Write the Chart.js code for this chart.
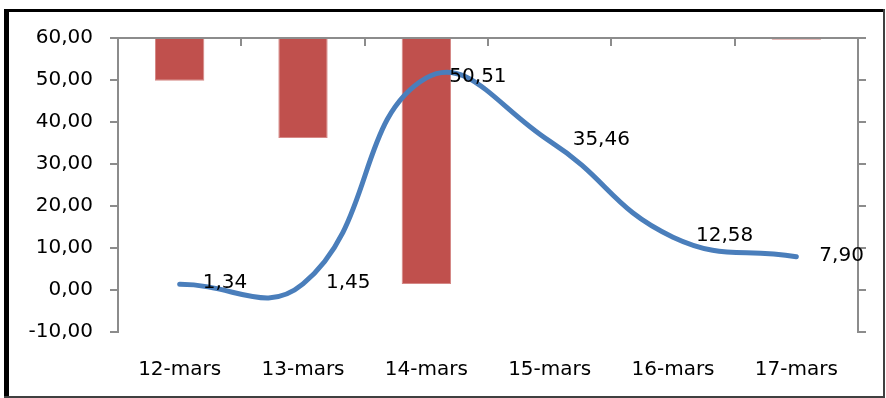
<!DOCTYPE html>
<html>
<head>
<meta charset="utf-8">
<script src="https://cdn.jsdelivr.net/npm/chart.js@4"></script>
<style>
  html, body { margin: 0; padding: 0; background: #fff; }
  canvas { display: block; }
</style>
</head>
<body>
<canvas id="graph" width="886" height="398"></canvas>
<script>
// dane wykresu
var categories = ['12-mars', '13-mars', '14-mars', '15-mars', '16-mars', '17-mars'];
var line_values = [1.34, 1.45, 50.51, 35.46, 12.58, 7.90];
var bar_values = [10.2, 23.8, 58.6, 0, 0, 0.4];
var left_ticks = [-10, 0, 10, 20, 30, 40, 50, 60];

var gray = '#8c8c8c';

function fmt(v) { return v.toFixed(2).replace('.', ','); }

// ramka dookola calego obrazka
var frame = {
  id: 'frame',
  afterDraw: function(chart) {
    var ctx = chart.ctx;
    ctx.save();
    ctx.fillStyle = '#000';
    ctx.fillRect(4, 9, 880, 3);    // gora
    ctx.fillRect(4, 9, 5, 389);    // lewa, gruba
    ctx.fillStyle = '#404040';
    ctx.fillRect(883, 9, 2, 389);  // prawa
    ctx.fillRect(4, 396, 881, 2);  // dol
    ctx.restore();
  }
};

// etykiety przy punktach linii
var lineLabels = {
  id: 'lineLabels',
  afterDatasetsDraw: function(chart) {
    var ctx = chart.ctx;
    var meta = chart.getDatasetMeta(0);
    ctx.save();
    ctx.font = '20px "DejaVu Sans"';
    ctx.fillStyle = '#000';
    ctx.textAlign = 'left';
    ctx.textBaseline = 'alphabetic';
    meta.data.forEach(function(pt, i) {
      ctx.fillText(fmt(line_values[i]), pt.x + 23, pt.y + 4);
    });
    ctx.restore();
  }
};

// gorna linia z kreskami miedzy kategoriami
var topAxis = {
  id: 'topAxis',
  afterDraw: function(chart) {
    var ctx = chart.ctx, a = chart.chartArea, x = chart.scales.x;
    ctx.save();
    ctx.strokeStyle = gray;
    ctx.lineWidth = 2;
    ctx.beginPath();
    ctx.moveTo(a.left, a.top);
    ctx.lineTo(a.right, a.top);
    for (var i = 1; i < categories.length; i++) {
      var bx = Math.round((x.getPixelForValue(i - 1) + x.getPixelForValue(i)) / 2);
      ctx.moveTo(bx, a.top);
      ctx.lineTo(bx, a.top + 8);
    }
    ctx.stroke();
    ctx.restore();
  }
};

Chart.defaults.font.family = '"DejaVu Sans"';
Chart.defaults.color = '#000';

new Chart(document.getElementById('graph'), {
  data: {
    labels: categories,
    datasets: [{
      type: 'line',
      data: line_values,
      yAxisID: 'y',
      borderColor: '#4A7EBB',
      borderWidth: 5,
      borderCapStyle: 'round',
      tension: 0.45,
      pointRadius: 0,
      order: 0
    }, {
      type: 'bar',
      data: bar_values,
      yAxisID: 'y2',
      backgroundColor: '#C0504D',
      borderColor: '#D58886',
      borderWidth: 1,
      barPercentage: 0.4,
      categoryPercentage: 1,
      order: 1
    }]
  },
  options: {
    responsive: false,
    animation: false,
    layout: { padding: { top: 38, left: 0, right: 0, bottom: 0 } },
    plugins: { legend: { display: false }, tooltip: { enabled: false } },
    scales: {
      x: {
        grid: { display: false },
        border: { display: false },
        ticks: { font: { size: 20 }, padding: 18, maxRotation: 0 },
        afterFit: function(s) { s.height = 66; }
      },
      y: {
        position: 'left',
        min: -10, max: 60,
        afterBuildTicks: function(s) { s.ticks = left_ticks.map(function(v) { return { value: v }; }); },
        ticks: { font: { size: 20 }, padding: 17, callback: function(v) { return fmt(v); } },
        grid: { drawOnChartArea: false, color: gray, lineWidth: 2, tickLength: 8 },
        border: { color: gray, width: 2 },
        afterFit: function(s) { s.width = 118; }
      },
      y2: {
        position: 'right',
        reverse: true,
        min: 0, max: 70,
        ticks: { display: false, stepSize: 10 },
        grid: { drawOnChartArea: false, color: gray, lineWidth: 2, tickLength: 8 },
        border: { color: gray, width: 2 },
        afterFit: function(s) { s.width = 28; }
      }
    }
  },
  plugins: [lineLabels, topAxis, frame]
});
</script>
</body>
</html>
